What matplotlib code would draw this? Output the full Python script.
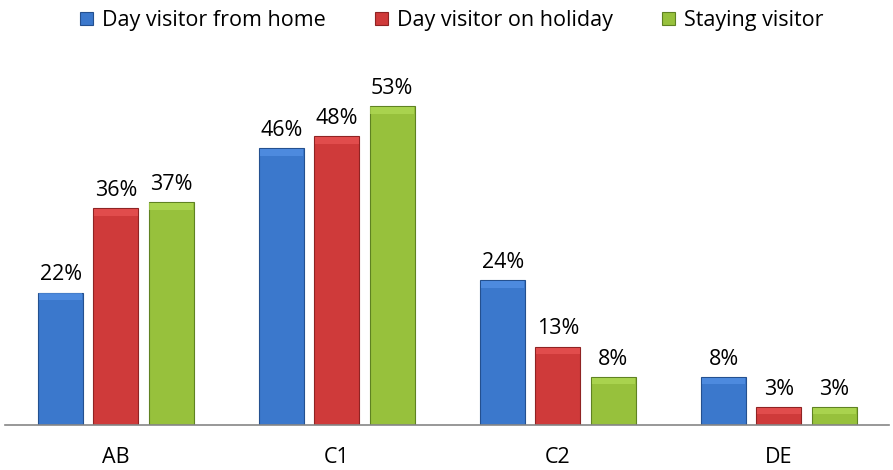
import numpy as np
import matplotlib.pyplot as plt
from matplotlib import colors as mcolors

plt.rcParams['font.family'] = ['Open Sans', 'DejaVu Sans']

groups = ['AB', 'C1', 'C2', 'DE']
series = ['Day visitor from home', 'Day visitor on holiday', 'Staying visitor']
home = [22, 46, 24, 8]
holiday = [36, 48, 13, 3]
staying = [37, 53, 8, 3]
values = [home, holiday, staying]

face = ['#3b78cc', '#cf3a3a', '#97c13c']
edge = ['#24508f', '#8f2323', '#5f8222']

fig = plt.figure(figsize=(8.93, 4.70), dpi=100)
ax = fig.add_axes([0.006, 0.096, 0.99, 0.768])

x = np.arange(len(groups))
width = 0.204
step = 0.25
cap = 1.1

for i, (vals, fc, ec) in enumerate(zip(values, face, edge)):
    pos = x + (i - 1) * step
    ax.bar(pos, vals, width, color=fc, edgecolor=ec, linewidth=0.8,
           label=series[i], zorder=2)
    # lighter bevel strip along the top of each bar
    light = [min(1, c + 0.1) for c in mcolors.to_rgb(fc)]
    ax.bar(pos, [cap] * len(vals), width * 0.96,
           bottom=[v - cap - 0.15 for v in vals], color=light,
           linewidth=0, zorder=3, alpha=0.7)
    for p, v in zip(pos, vals):
        ax.text(p, v + 1.2, f'{v}%', ha='center', va='bottom', fontsize=15.5)

ax.set_xlim(-0.5, 3.5)
ax.set_ylim(0, 60)
ax.set_xticks(x)
ax.set_xticklabels(groups, fontsize=15.5)
ax.tick_params(axis='x', length=0, pad=16)
ax.set_yticks([])
for s in ['top', 'right', 'left']:
    ax.spines[s].set_visible(False)
ax.spines['bottom'].set_color('#868686')
ax.spines['bottom'].set_linewidth(1.2)

fig.legend(loc='upper center', bbox_to_anchor=(0.506, 1.02), ncol=3,
           frameon=False, fontsize=15.5, handlelength=0.6, handleheight=0.6,
           handletextpad=0.4, columnspacing=2.3)

fig.savefig('out.png', dpi=100)
